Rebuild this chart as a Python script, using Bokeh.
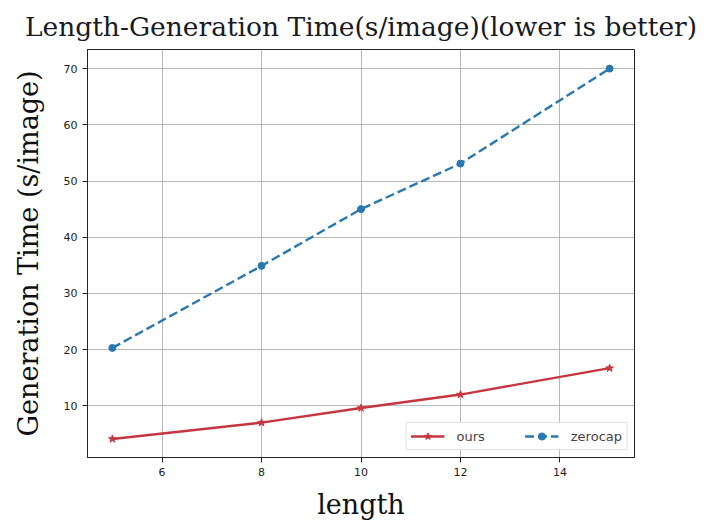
from bokeh.plotting import figure
from bokeh.models import Range1d, FixedTicker, Legend, LegendItem
from bokeh.embed import file_html
from bokeh.resources import INLINE

lengths = [5, 8, 10, 12, 15]
ours = [4.1, 7.0, 9.6, 12.0, 16.7]
zerocap = [20.3, 34.9, 45.0, 53.1, 70.0]
x_ticks = [6, 8, 10, 12, 14]
y_ticks = [10, 20, 30, 40, 50, 60, 70]

p = figure(width=707, height=522, output_backend="svg", toolbar_location=None,
           x_range=Range1d(4.5, 15.5), y_range=Range1d(0.8, 73.4),
           min_border_left=87, min_border_right=73, min_border_top=16, min_border_bottom=0)

p.title.text = "Length-Generation Time(s/image)(lower is better)"
p.title.text_font = "DejaVu Serif"
p.title.text_font_size = "26.5px"
p.title.text_font_style = "normal"
p.title.text_color = "#1a1a24"
p.title.align = "center"
p.title.offset = 6
p.title.standoff = 16

p.outline_line_color = "#222222"
p.outline_line_width = 1
p.background_fill_color = "white"
p.border_fill_color = "white"

for ax in (p.xaxis[0], p.yaxis[0]):
    ax.major_label_text_font = "DejaVu Sans"
    ax.major_label_text_font_size = "11px"
    ax.major_label_text_color = "#222222"
    ax.axis_label_text_font = "DejaVu Serif"
    ax.axis_label_text_font_size = "27px"
    ax.axis_label_text_font_style = "normal"
    ax.axis_label_text_color = "#111111"
    ax.minor_tick_line_color = None
    ax.major_tick_out = 5
    ax.major_tick_in = 0
    ax.axis_line_color = "#222222"
    ax.major_tick_line_color = "#222222"

p.xaxis.ticker = FixedTicker(ticks=x_ticks)
p.yaxis.ticker = FixedTicker(ticks=y_ticks)
p.xaxis.axis_label = "length"
p.yaxis.axis_label = "Generation Time (s/image)"
p.xaxis.axis_label_standoff = 10
p.yaxis.axis_label_standoff = 17

p.grid.grid_line_color = "#b0b0b0"
p.grid.grid_line_alpha = 0.9
p.grid.grid_line_width = 1

red = "#c5363f"
blue = "#2a78b0"

l1 = p.line(lengths, ours, line_color=red, line_width=2.4)
m1 = p.scatter(lengths, ours, marker="star", size=8, fill_color=red, line_color=red)
l2 = p.line(lengths, zerocap, line_color=blue, line_width=2.4, line_dash="9 4")
m2 = p.scatter(lengths, zerocap, marker="circle", size=7, fill_color=blue, line_color=blue)

legend = Legend(items=[LegendItem(label="ours", renderers=[l1, m1]),
                       LegendItem(label="zerocap", renderers=[l2, m2])],
                location="bottom_right", orientation="horizontal")
legend.label_text_font = "DejaVu Sans"
legend.label_text_font_size = "13px"
legend.border_line_color = "#c8c8c8"
legend.border_line_width = 1
legend.background_fill_alpha = 1.0
legend.glyph_width = 34
legend.glyph_height = 18
legend.spacing = 40
legend.padding = 4
legend.margin = 7
legend.label_standoff = 12
p.add_layout(legend)

open("out.html", "w").write(file_html(p, INLINE))
